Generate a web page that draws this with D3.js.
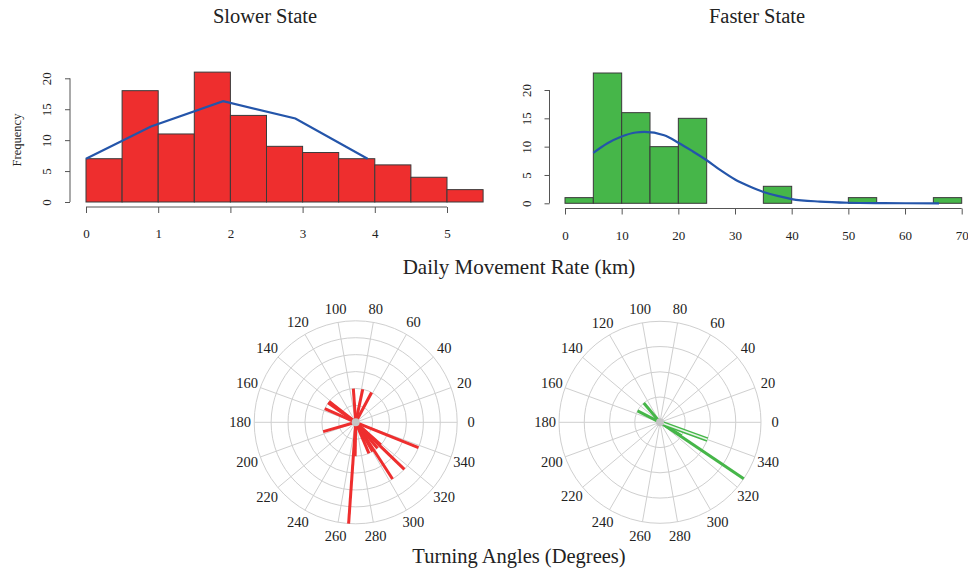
<!DOCTYPE html>
<html>
<head>
<meta charset="utf-8">
<script src="https://cdn.jsdelivr.net/npm/d3@7"></script>
<style>
  body { margin: 0; background: #fff; }
  svg { display: block; font-family: "Liberation Serif", "DejaVu Serif", serif; }
</style>
</head>
<body>
<div id="chart"></div>
<script>
// histogram bins (Daily Movement Rate, km)
const slowBreaks = [0, 0.5, 1, 1.5, 2, 2.5, 3, 3.5, 4, 4.5, 5, 5.5];
const slowCounts = [7, 18, 11, 21, 14, 9, 8, 7, 6, 4, 2];
const slowFitX = [0, 0.9, 1.9, 2.9, 3.9];
const slowFitY = [7, 12.2, 16.3, 13.5, 7];
const slowTicks = [0, 1, 2, 3, 4, 5];

const fastBreaks = [0, 5, 10, 15, 20, 25, 30, 35, 40, 45, 50, 55, 60, 65, 70];
const fastCounts = [1, 23, 16, 10, 15, 0, 0, 3, 0, 0, 1, 0, 0, 1];
const fastFitX = [5, 7.5, 10, 12.5, 14, 17.5, 20, 22.5, 25, 27.5, 30, 32.5, 35, 37.5, 40, 45, 50, 55, 60, 66];
const fastFitY = [8.9, 10.6, 11.8, 12.5, 12.6, 12, 10.7, 9.2, 7.6, 5.8, 4.2, 3.0, 2.0, 1.3, 0.75, 0.3, 0.1, 0.03, 0.01, 0];
const fastTicks = [0, 10, 20, 30, 40, 50, 60, 70];

const freqTicks = [0, 5, 10, 15, 20];

// turning angles (degrees) and counts
const slowAngles = [94, 78, 62, 142, 145, 156, 196, 338, 316, 303, 293, 300, 310, 318, 269, 266];
const slowAngleCounts = [2, 2, 2, 2, 2, 2, 2, 4, 4, 4, 2, 2, 2, 2, 2, 6];
const fastAngles = [130, 153, 326, 328];
const fastAngleCounts = [1, 1, 4, 1];
const fastHollowAngles = [340];
const fastHollowCounts = [2];

const angleLabels = d3.range(0, 360, 20);

const W = 968, H = 574;
const svg = d3.select("#chart").append("svg").attr("width", W).attr("height", H);

const red = "#ee2e2e", green = "#46b649", blue = "#2455aa";

function histogram(opts) {
  const x = d3.scaleLinear().domain(opts.xDomain).range(opts.xRange);
  const y = d3.scaleLinear().domain([0, 20]).range(opts.yRange);
  const g = svg.append("g");

  const bins = opts.counts.map((c, i) => ({ x0: opts.breaks[i], x1: opts.breaks[i + 1], c }));
  g.selectAll("rect").data(bins).join("rect")
    .attr("x", d => x(d.x0))
    .attr("width", d => x(d.x1) - x(d.x0))
    .attr("y", d => y(d.c))
    .attr("height", d => y(0) - y(d.c))
    .attr("fill", opts.fill)
    .attr("stroke", "#3a3a3a")
    .attr("stroke-width", 1);

  const line = d3.line().x(d => x(d[0])).y(d => y(d[1])).curve(opts.curve);
  g.append("path")
    .datum(opts.fitX.map((v, i) => [v, opts.fitY[i]]))
    .attr("fill", "none")
    .attr("stroke", blue)
    .attr("stroke-width", 2.2)
    .attr("d", line);

  // x axis, R style
  const xa = g.append("g")
    .attr("transform", `translate(0,${opts.xAxisY})`)
    .call(d3.axisBottom(x).tickValues(opts.ticks).tickFormat(d3.format("d"))
      .tickSize(6).tickSizeOuter(0).tickPadding(16));
  xa.select(".domain").remove();
  xa.append("line")
    .attr("x1", x(opts.ticks[0])).attr("x2", x(opts.ticks[opts.ticks.length - 1]))
    .attr("stroke", "#555");
  xa.selectAll(".tick line").attr("stroke", "#555");
  xa.selectAll("text").attr("fill", "#222").style("font-size", "13px")
    .style("font-family", "Liberation Serif, serif");

  // y axis, rotated labels
  const ya = g.append("g")
    .attr("transform", `translate(${opts.yAxisX},0)`)
    .call(d3.axisLeft(y).tickValues(freqTicks).tickSize(5).tickSizeOuter(0));
  ya.select(".domain").remove();
  ya.append("line").attr("y1", y(0)).attr("y2", y(20)).attr("stroke", "#555");
  ya.selectAll(".tick line").attr("stroke", "#555");
  ya.selectAll("text")
    .attr("x", 0).attr("dy", null).attr("y", -19)
    .attr("transform", "rotate(-90)")
    .attr("text-anchor", "middle")
    .attr("fill", "#222").style("font-size", "13px")
    .style("font-family", "Liberation Serif, serif");

  svg.append("text")
    .attr("x", opts.titleX).attr("y", 23)
    .attr("text-anchor", "middle")
    .attr("fill", "#222")
    .style("font-size", "20.5px")
    .text(opts.title);
}

histogram({
  breaks: slowBreaks, counts: slowCounts, fitX: slowFitX, fitY: slowFitY, ticks: slowTicks,
  xDomain: [0, 5], xRange: [86, 447], yRange: [202, 78.3],
  xAxisY: 207, yAxisX: 70, fill: red, curve: d3.curveLinear,
  title: "Slower State", titleX: 265
});
histogram({
  breaks: fastBreaks, counts: fastCounts, fitX: fastFitX, fitY: fastFitY, ticks: fastTicks,
  xDomain: [0, 70], xRange: [565, 961.7], yRange: [203.3, 90],
  xAxisY: 208.5, yAxisX: 549.5, fill: green, curve: d3.curveMonotoneX,
  title: "Faster State", titleX: 757
});

svg.append("text")
  .attr("transform", "translate(21,140) rotate(-90)")
  .attr("text-anchor", "middle")
  .attr("fill", "#222")
  .style("font-size", "12.5px")
  .text("Frequency");

svg.append("text")
  .attr("x", 519).attr("y", 274)
  .attr("text-anchor", "middle")
  .attr("fill", "#222")
  .style("font-size", "21px")
  .text("Daily Movement Rate (km)");

function rose(opts) {
  const r = d3.scaleLinear().domain([0, opts.maxRing]).range([0, opts.radius]);
  const g = svg.append("g").attr("transform", `translate(${opts.cx},${opts.cy})`);
  const rad = a => a * Math.PI / 180;
  const px = (a, v) => r(v) * Math.cos(rad(a));
  const py = (a, v) => -r(v) * Math.sin(rad(a));

  g.selectAll("circle.ring").data(d3.range(1, opts.maxRing + 1)).join("circle")
    .attr("class", "ring")
    .attr("r", d => r(d))
    .attr("fill", "none")
    .attr("stroke", "#cfcfcf")
    .attr("stroke-width", 1);

  g.selectAll("line.spoke").data(angleLabels).join("line")
    .attr("class", "spoke")
    .attr("x1", 0).attr("y1", 0)
    .attr("x2", d => px(d, opts.maxRing))
    .attr("y2", d => py(d, opts.maxRing))
    .attr("stroke", "#cfcfcf")
    .attr("stroke-width", 1);

  g.selectAll("text.lab").data(angleLabels).join("text")
    .attr("class", "lab")
    .attr("x", d => (opts.radius + 14) * Math.cos(rad(d)))
    .attr("y", d => -(opts.radius + 14) * Math.sin(rad(d)))
    .attr("text-anchor", "middle")
    .attr("dominant-baseline", "central")
    .attr("fill", "#222")
    .style("font-size", "14.5px")
    .text(d => d);

  const rays = opts.angles.map((a, i) => ({ a, v: opts.counts[i] }));
  g.selectAll("line.ray").data(rays).join("line")
    .attr("class", "ray")
    .attr("x1", 0).attr("y1", 0)
    .attr("x2", d => px(d.a, d.v))
    .attr("y2", d => py(d.a, d.v))
    .attr("stroke", opts.color)
    .attr("stroke-width", 3);

  if (opts.hollowAngles) {
    const hollow = opts.hollowAngles.map((a, i) => ({ a, v: opts.hollowCounts[i] }));
    [[opts.color, 4.5], ["#e8f5e8", 1.6]].forEach(([c, w]) => {
      g.selectAll(null).data(hollow).join("line")
        .attr("x1", 0).attr("y1", 0)
        .attr("x2", d => px(d.a, d.v))
        .attr("y2", d => py(d.a, d.v))
        .attr("stroke", c)
        .attr("stroke-width", w);
    });
  }

  g.append("circle").attr("r", 4).attr("fill", "#c4c4c4");
}

rose({ cx: 355.7, cy: 422.3, radius: 101.5, maxRing: 6, angles: slowAngles, counts: slowAngleCounts, color: red });
rose({ cx: 660, cy: 422.3, radius: 101, maxRing: 4, angles: fastAngles, counts: fastAngleCounts, color: green,
  hollowAngles: fastHollowAngles, hollowCounts: fastHollowCounts });

svg.append("text")
  .attr("x", 519).attr("y", 563)
  .attr("text-anchor", "middle")
  .attr("fill", "#222")
  .style("font-size", "20.5px")
  .text("Turning Angles (Degrees)");
</script>
</body>
</html>
